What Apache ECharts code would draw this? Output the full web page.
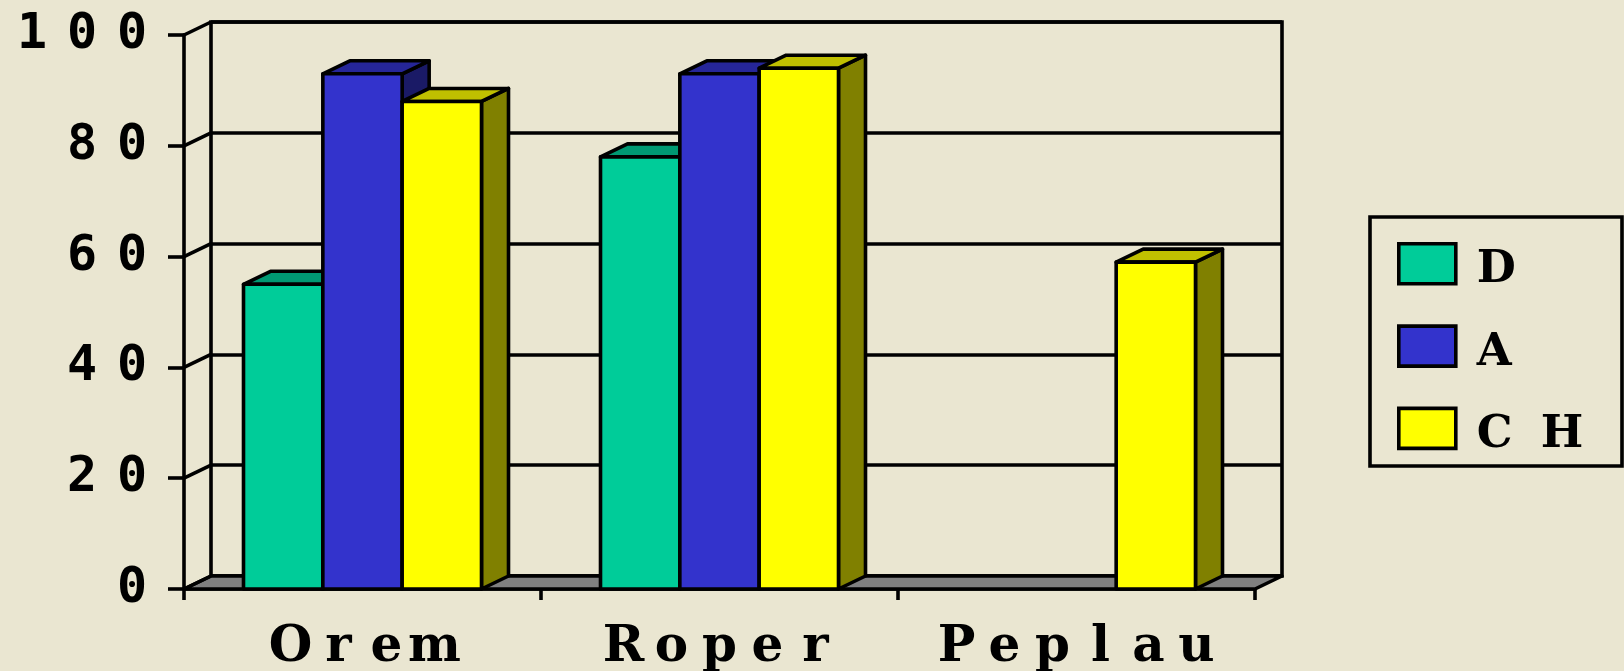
<!DOCTYPE html>
<html>
<head>
<meta charset="utf-8">
<script src="https://cdn.jsdelivr.net/npm/echarts@6/dist/echarts.min.js"></script>
<style>
html,body{margin:0;padding:0;background:#EAE6D1;}
#chart{width:1624px;height:671px;}
</style>
</head>
<body>
<div id="chart"></div>
<script>
// ---- data ----
const categories = ['Orem', 'Roper', 'Peplau'];
const seriesNames = ['D', 'A', 'CH'];
const valuesD = [55, 78, null];
const valuesA = [93, 93, null];
const valuesCH = [88, 94, 59];
const yTicks = [0, 20, 40, 60, 80, 100];

// ---- styling ----
const BG = '#EAE6D1';
const DX = 27, DY = -13;
const LW = 3.6;
const colors = [
  { front: '#00CC99', top: '#009973', side: '#00664D' },
  { front: '#3333CC', top: '#262699', side: '#1A1A66' },
  { front: '#FFFF00', top: '#C0C000', side: '#808000' }
];
const allValues = [valuesD, valuesA, valuesCH];

function spaced(str, key, firstKey) {
  return String(str).split('').map((ch, i) => '{' + (i === 0 && firstKey ? firstKey : key) + '|' + ch + '}').join('');
}

function barRenderer(si) {
  return function (params, api) {
    const v = api.value(1);
    if (!(v > 0)) return;
    const cat = api.value(0);
    const top = api.coord([cat, v]);
    const base = api.coord([cat, 0]);
    const bw = api.size([1, 0])[0];
    const w = bw / 4.5;
    const x0 = top[0] - 1.5 * w + si * w;
    const x1 = x0 + w;
    const yt = top[1], yb = base[1];
    const c = colors[si];
    const st = { stroke: '#000', lineWidth: LW, lineJoin: 'round' };
    return {
      type: 'group',
      children: [
        { type: 'polygon', shape: { points: [[x1, yt], [x1 + DX, yt + DY], [x1 + DX, yb + DY], [x1, yb]] },
          style: Object.assign({ fill: c.side }, st) },
        { type: 'polygon', shape: { points: [[x0, yt], [x0 + DX, yt + DY], [x1 + DX, yt + DY], [x1, yt]] },
          style: Object.assign({ fill: c.top }, st) },
        { type: 'rect', shape: { x: x0, y: yt, width: w, height: yb - yt },
          style: Object.assign({ fill: c.front }, st) }
      ]
    };
  };
}

const chart = echarts.init(document.getElementById('chart'), null, { renderer: 'canvas' });

const barSeries = seriesNames.map((name, si) => ({
  name: name,
  type: 'custom',
  xAxisIndex: 0,
  yAxisIndex: 0,
  z: 3,
  itemStyle: { color: colors[si].front },
  renderItem: barRenderer(si),
  encode: { x: 0, y: 1 },
  data: allValues[si].map((v, i) => [i, v == null ? '-' : v]),
  silent: true
}));

const floorSeries = {
  name: 'floor',
  type: 'custom',
  xAxisIndex: 0,
  yAxisIndex: 0,
  z: 2,
  silent: true,
  renderItem: function (params, api) {
    const p = api.coord([0, 0]);
    const bw = api.size([1, 0])[0];
    const x0 = p[0] - bw / 2;
    const x1 = x0 + bw * categories.length;
    const y0 = p[1];
    return {
      type: 'polygon',
      shape: { points: [[x0, y0], [x1, y0], [x1 + DX, y0 + DY], [x0 + DX, y0 + DY]] },
      style: { fill: '#808080', stroke: '#000', lineWidth: LW, lineJoin: 'round' }
    };
  },
  encode: { x: 0, y: 1 },
  data: [[0, 0]]
};

const depthSeries = {
  name: 'depth',
  type: 'custom',
  xAxisIndex: 0,
  yAxisIndex: 0,
  z: 2,
  silent: true,
  renderItem: function (params, api) {
    const v = api.value(1);
    const p = api.coord([0, v]);
    const bw = api.size([1, 0])[0];
    const x0 = p[0] - bw / 2;
    return {
      type: 'line',
      shape: { x1: x0, y1: p[1], x2: x0 + DX, y2: p[1] + DY },
      style: { stroke: '#000', lineWidth: LW }
    };
  },
  encode: { x: 0, y: 1 },
  data: yTicks.map(t => [0, t])
};

const letterFont = 'DejaVu Serif';
const digitFont = 'DejaVu Sans Mono';
const legendTok = { width: 64, align: 'left', fontFamily: letterFont, fontWeight: 'bold', fontSize: 45, color: '#000', height: 26, lineHeight: 40, padding: [14, 0, 0, 0] };

const option = {
  backgroundColor: BG,
  animation: false,
  grid: [
    { left: 184, right: 369, top: 35, bottom: 82, show: false, containLabel: false, outerBoundsMode: 'none' },
    { left: 211, right: 342, top: 22, bottom: 95, show: true, borderColor: '#000', borderWidth: LW, backgroundColor: 'transparent', containLabel: false, outerBoundsMode: 'none' }
  ],
  xAxis: [
    {
      type: 'category', gridIndex: 0, data: categories, boundaryGap: true,
      axisLine: { show: true, lineStyle: { color: '#000', width: LW } },
      axisTick: { show: true, length: 11, lineStyle: { color: '#000', width: LW } },
      axisLabel: {
        margin: 34,
        formatter: v => spaced(v, 'c'),
        rich: { c: { width: 48, align: 'center', fontFamily: letterFont, fontWeight: 'bold', fontSize: 50, color: '#000', lineHeight: 50 } }
      },
      splitLine: { show: false }
    },
    { type: 'category', gridIndex: 1, data: categories, show: false }
  ],
  yAxis: [
    {
      type: 'value', gridIndex: 0, min: 0, max: 100, interval: 20,
      axisLine: { show: true, lineStyle: { color: '#000', width: LW } },
      axisTick: { show: true, length: 16, lineStyle: { color: '#000', width: LW } },
      axisLabel: {
        margin: 27,
        formatter: v => spaced(v, 'd'),
        rich: { d: { width: 50, align: 'center', fontFamily: digitFont, fontWeight: 'bold', fontSize: 50, color: '#000', lineHeight: 50 } }
      },
      splitLine: { show: false }
    },
    {
      type: 'value', gridIndex: 1, min: 0, max: 100, interval: 20,
      axisLine: { show: false }, axisTick: { show: false }, axisLabel: { show: false },
      splitLine: { show: true, lineStyle: { color: '#000', width: LW } }
    }
  ],
  legend: {
    orient: 'vertical',
    left: 1397,
    top: 242,
    padding: 0,
    itemWidth: 57,
    itemHeight: 40,
    itemGap: 31,
    selectedMode: false,
    data: seriesNames.map((n, i) => ({
      name: n, icon: 'rect',
      itemStyle: { color: colors[i].front, borderColor: '#000', borderWidth: LW }
    })),
    formatter: n => spaced(n, 'l', 'f'),
    textStyle: {
      rich: {
        l: legendTok,
        f: Object.assign({}, legendTok, { padding: [14, 0, 0, 16] })
      }
    }
  },
  graphic: [
    { type: 'rect', shape: { x: 1370, y: 217, width: 252, height: 249 },
      style: { fill: 'transparent', stroke: '#000', lineWidth: LW }, z: 10, silent: true }
  ],
  series: [floorSeries, depthSeries].concat(barSeries)
};

chart.setOption(option);
</script>
</body>
</html>
